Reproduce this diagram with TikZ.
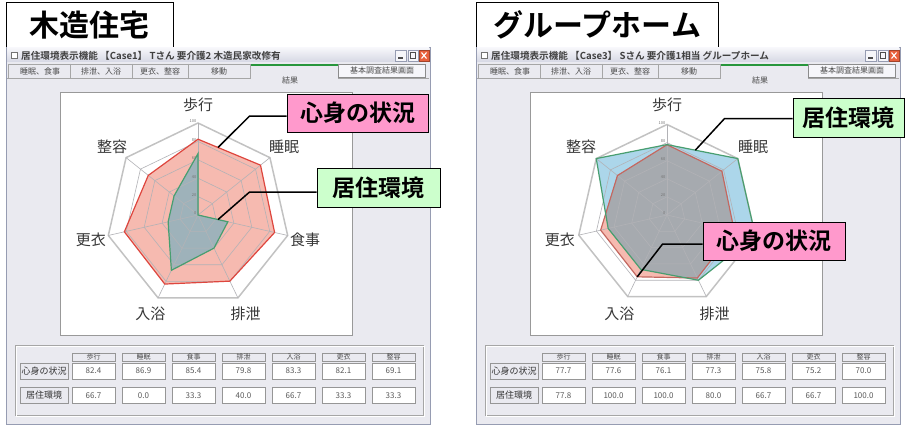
\documentclass[tikz,border=0pt]{standalone}
\usepackage{fontspec}
\setmainfont{Noto Sans CJK JP}[BoldFont={Noto Sans CJK JP Bold}]
\usetikzlibrary{calc}
\usetikzlibrary{positioning}

\definecolor{winbg}{RGB}{234,234,240}
\definecolor{winedge}{RGB}{150,156,178}
\definecolor{bartop}{RGB}{246,246,250}
\definecolor{barbot}{RGB}{214,216,228}
\definecolor{tabline}{RGB}{40,150,60}
\definecolor{cellgray}{RGB}{150,150,150}
\definecolor{gridgray}{RGB}{178,178,182}
\definecolor{mindfill}{RGB}{246,186,176}
\definecolor{mindline}{RGB}{222,70,62}
\definecolor{mindlinetwo}{RGB}{196,104,96}
\definecolor{envfill}{RGB}{172,214,234}
\definecolor{envline}{RGB}{72,158,112}
\definecolor{bothfill}{RGB}{158,178,186}
\definecolor{bothfilltwo}{RGB}{166,170,175}
\definecolor{calloutpink}{RGB}{255,153,204}
\definecolor{calloutgreen}{RGB}{204,255,204}
\definecolor{labelgray}{RGB}{55,55,55}
\definecolor{closered}{RGB}{232,96,60}

\tikzset{
  titlebox/.style={draw, fill=white, line width=0.8pt, anchor=north west,
    minimum height=45pt, inner sep=0pt,
    font=\fontsize{30}{32}\selectfont\bfseries},
  bartext/.style={anchor=west, inner sep=0pt,
    font=\fontsize{9.6}{10}\selectfont\bfseries, text=black!75},
  tabtext/.style={inner sep=0pt, font=\fontsize{8}{9}\selectfont, text=black!70},
  axislabel/.style={inner sep=0pt, font=\fontsize{15}{16}\selectfont, text=labelgray},
  ticklabel/.style={inner sep=0pt, anchor=east,
    font=\fontsize{4}{4}\selectfont, text=black!55},
  gridline/.style={gridgray, line width=0.6pt},
  outerring/.style={black!24, line width=1.5pt},
  mindedge/.style={mindline, line width=1.2pt},
  envedge/.style={envline, line width=1.2pt},
  callout/.style={draw, line width=0.8pt, inner sep=0pt,
    font=\fontsize{23}{24}\selectfont\bfseries},
  callline/.style={line width=1.5pt},
  headcell/.style={draw=cellgray, fill=winbg, minimum width=43pt,
    minimum height=8pt, inner sep=0pt, font=\fontsize{7}{7}\selectfont,
    text=black!70},
  valcell/.style={draw=cellgray, fill=white, minimum width=43pt,
    minimum height=16pt, inner sep=0pt, font=\fontsize{8}{9}\selectfont,
    text=black!65},
  rowcell/.style={draw=cellgray, fill=winbg, minimum width=48pt,
    minimum height=16pt, inner sep=0pt, font=\fontsize{9}{10}\selectfont,
    text=black!80},
}

% window chrome: #1 title, #2 title width, #3 title bar text
\newcommand\chartwindow[3]{%
  \node[titlebox, minimum width=#2] (title) at (6,2) {#1};
  \draw[winedge, fill=winbg] (6,47) rectangle (430,424);
  \shade[top color=bartop, bottom color=barbot] (7,48) rectangle (429,62);
  \draw[black!55, fill=white] (11,52) rectangle (17,58);
  \node[bartext] (bar) at (21,55.5) {#3};
  \draw[winedge, fill=bartop] (395,50) rectangle (406,61);
  \draw[black!70, line width=1.2pt] (398,58) -- (402.5,58);
  \draw[winedge, fill=bartop] (408,50) rectangle (418,61);
  \draw[black!70] (410.5,52.5) rectangle (415.5,58.5);
  \draw[closered!70!black, fill=closered] (419,50) rectangle (429,61);
  \draw[white, line width=1.1pt] (421.5,52.5) -- (426.5,58.5)
    (421.5,58.5) -- (426.5,52.5);
  % tabs
  \draw[black!35] (8,78) -- (8,64) -- (250,64) (70,64) -- (70,78)
    (132,64) -- (132,78) (188,64) -- (188,78);
  \draw[black!35] (7,78) -- (250,78) -- (250,64) -- (338,64) -- (338,78)
    -- (429,78);
  \fill[tabline] (250.5,64) rectangle (337.5,66.5);
  \node[tabtext] (tab1) at (40,71) {睡眠、食事};
  \node[tabtext] (tab2) at (101,71) {排泄、入浴};
  \node[tabtext] (tab3) at (160,71) {更衣、整容};
  \node[tabtext] (tab4) at (219,71) {移動};
  \node[tabtext] (tab5) at (290,80) {結果};
  \node[tabtext, draw=black!45, fill=bartop, minimum width=87pt,
    minimum height=13pt] (survey) at (382,70.5) {基本調査結果画面};
  % chart panel
  \draw[black!40, fill=white] (60,92) rectangle (352,335);
  % table of scores
  \draw[black!35] (15,345) rectangle (423,415);
  \draw[white] (16,346) rectangle (424,416);
  \node[rowcell] (mindrow) at (44,371) {心身の状況};
  \node[rowcell] (envrow) at (44,395.5) {居住環境};
  \foreach \lab/\mv/\ev [count=\k from 0] in \scores {
    \node[headcell] (h\k) at ({93.5+50*\k},357) {\lab};
    \node[valcell] (v\k) at ({93.5+50*\k},371) {\mv};
    \node[valcell] (w\k) at ({93.5+50*\k},395.5) {\ev};
  }
}

\begin{document}
\begin{tikzpicture}[x=1pt, y=-1pt]
  \useasboundingbox[fill=white] (0,0) rectangle (905,428);

  % wooden house
  \begin{scope}[name prefix=L-]
    \def\scores{歩行/82.4/66.7, 睡眠/86.9/0.0, 食事/85.4/33.3, 排泄/79.8/40.0,
      入浴/83.3/66.7, 更衣/82.1/33.3, 整容/69.1/33.3}
    \chartwindow{木造住宅}{167pt}{居住環境表示機能\ 【Case1】\ Tさん\ 要介護2\ 木造民家改修有}
    \begin{scope}[shift={(198,215)}]
      \def\rad{0.92}
      \foreach \lab/\mv/\ev [count=\k from 0] in \scores {
        \coordinate (m\k) at ({\k*360/7-90}:{\rad*\mv});
        \coordinate (e\k) at ({\k*360/7-90}:{\rad*\ev});
        \node[axislabel] (a\k) at ({\k*360/7-90}:110) {\lab};
      }
      \fill[mindfill] (m0) \foreach \k in {1,...,6} {-- (m\k)} -- cycle;
      \fill[bothfill] (e0) \foreach \k in {1,...,6} {-- (e\k)} -- cycle;
      \foreach \r in {20,40,60,80}
        \draw[gridline] (-90:{\rad*\r})
          \foreach \k in {1,...,6} {-- ({\k*360/7-90}:{\rad*\r})} -- cycle;
      \draw[outerring] (-90:{\rad*100})
        \foreach \k in {1,...,6} {-- ({\k*360/7-90}:{\rad*100})} -- cycle;
      \foreach \k in {0,...,6}
        \draw[gridline] (0,0) -- ({\k*360/7-90}:{\rad*100});
      \foreach \v in {0,20,...,100}
        \node[ticklabel] (t\v) at (-1.5,{-\rad*\v-1.5}) {\v};
      \draw[mindedge] (m0) \foreach \k in {1,...,6} {-- (m\k)} -- cycle;
      \draw[envedge] (e0) \foreach \k in {1,...,6} {-- (e\k)} -- cycle;
    \end{scope}
    \node[callout, fill=calloutpink, minimum width=141pt,
      minimum height=38pt] (mindbox) at (357.5,113) {心身の状況};
    \node[callout, fill=calloutgreen, minimum width=123pt,
      minimum height=39pt] (envbox) at (378.5,187.5) {居住環境};
    \coordinate (mindtip) at ($(m0)!0.32!(m1)$);
    \coordinate (envtip) at ($(e1)!0.67!(e2)$);
    \draw[callline] ([yshift=-3pt]mindbox.west) -- ++(-37,0) -- (mindtip);
    \draw[callline] ([yshift=-4.5pt]envbox.west) -- ++(-67,0) -- (envtip);
  \end{scope}

  % group home
  \begin{scope}[xshift=470pt, name prefix=R-]
    \def\scores{歩行/77.7/77.8, 睡眠/77.6/100.0, 食事/76.1/100.0, 排泄/77.3/80.0,
      入浴/75.8/66.7, 更衣/75.2/66.7, 整容/70.0/100.0}
    \chartwindow{グループホーム}{242pt}{居住環境表示機能\ 【Case3】\ Sさん\ 要介護1相当\ グループホーム}
    \begin{scope}[shift={(197,215)}]
      \def\rad{0.905}
      \foreach \lab/\mv/\ev [count=\k from 0] in \scores {
        \coordinate (m\k) at ({\k*360/7-90}:{\rad*\mv});
        \coordinate (e\k) at ({\k*360/7-90}:{\rad*\ev});
      }
      \foreach \lab/\k in {歩行/0, 睡眠/1, 排泄/3, 入浴/4, 更衣/5, 整容/6}
        \node[axislabel] (a\k) at ({\k*360/7-90}:110) {\lab};
      \fill[envfill] (e0) \foreach \k in {1,...,6} {-- (e\k)} -- cycle;
      \fill[mindfill] (m0) \foreach \k in {1,...,6} {-- (m\k)} -- cycle;
      \begin{scope}
        \clip (e0) \foreach \k in {1,...,6} {-- (e\k)} -- cycle;
        \fill[bothfilltwo] (m0) \foreach \k in {1,...,6} {-- (m\k)} -- cycle;
      \end{scope}
      \foreach \r in {20,40,60,80}
        \draw[gridline] (-90:{\rad*\r})
          \foreach \k in {1,...,6} {-- ({\k*360/7-90}:{\rad*\r})} -- cycle;
      \draw[outerring] (-90:{\rad*100})
        \foreach \k in {1,...,6} {-- ({\k*360/7-90}:{\rad*100})} -- cycle;
      \foreach \k in {0,...,6}
        \draw[gridline] (0,0) -- ({\k*360/7-90}:{\rad*100});
      \foreach \v in {0,20,...,100}
        \node[ticklabel] (t\v) at (-1.5,{-\rad*\v-1.5}) {\v};
      \draw[mindedge, mindlinetwo] (m0) \foreach \k in {1,...,6} {-- (m\k)} -- cycle;
      \draw[envedge] (e0) \foreach \k in {1,...,6} {-- (e\k)} -- cycle;
    \end{scope}
    \node[callout, fill=calloutgreen, minimum width=111pt,
      minimum height=39pt] (envbox) at (378.5,117.5) {居住環境};
    \node[callout, fill=calloutpink, minimum width=142pt,
      minimum height=38pt] (mindbox) at (304,241) {心身の状況};
    \coordinate (envtip) at ($(e0)!0.4!(e1)$);
    \coordinate (mindtip) at (m4);
    \draw[callline] ([yshift=-1pt]envbox.west) -- ++(-68,0) -- (envtip);
    \draw[callline] ([yshift=-3pt]mindbox.west) -- ++(-40,0) -- (mindtip);
  \end{scope}
\end{tikzpicture}
\end{document}
